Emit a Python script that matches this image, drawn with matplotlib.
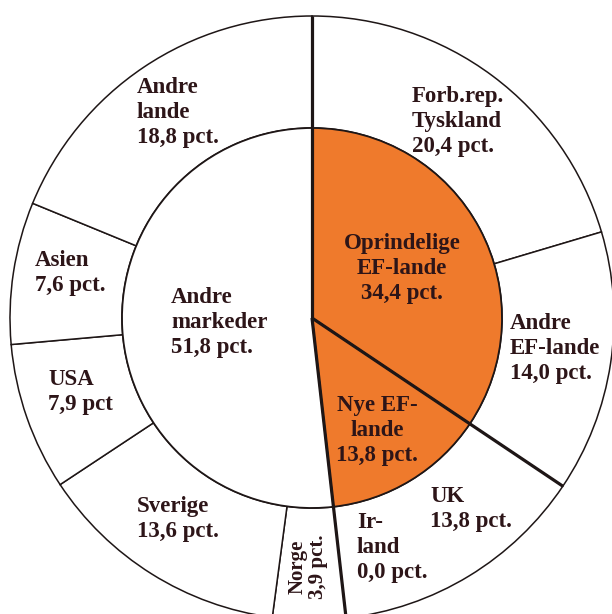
import numpy as np
import matplotlib
matplotlib.use("Agg")
import matplotlib.pyplot as plt

# outer ring: single markets, clockwise from the top
outer_labels = ["Forb.rep.\nTyskland", "Andre\nEF-lande", "UK", "Ir-\nland", "Norge",
                "Sverige", "USA", "Asien", "Andre\nlande"]
outer_values = [20.4, 14.0, 13.8, 0.0, 3.9, 13.6, 7.9, 7.6, 18.8]
outer_pct = ["20,4 pct.", "14,0 pct.", "13,8 pct.", "0,0 pct.", "3,9 pct.",
             "13,6 pct.", "7,9 pct", "7,6 pct.", "18,8 pct."]

# inner disc: groups
inner_labels = ["Oprindelige\nEF-lande", "Nye EF-\nlande", "Andre\nmarkeder"]
inner_values = [34.4, 13.8, 51.8]
inner_pct = ["34,4 pct.", "13,8 pct.", "51,8 pct."]

orange = "#ef7a2c"
ink = "#2d1518"
edge = "#1e1616"

W, H = 612, 614
fig = plt.figure(figsize=(W / 100, H / 100), dpi=100)
ax = fig.add_axes([0, 0, 1, 1])

cx, cy = 312, H - 318
r_out, r_in = 302, 190

ax.pie(outer_values, radius=r_out, center=(cx, cy), startangle=90, counterclock=False,
       colors=["white"] * len(outer_values),
       wedgeprops=dict(width=r_out - r_in, edgecolor=edge, linewidth=1.1))
ax.pie(inner_values, radius=r_in, center=(cx, cy), startangle=90, counterclock=False,
       colors=[orange, orange, "white"],
       wedgeprops=dict(edgecolor=edge, linewidth=1.3))

# heavy dividers: start, end of original EF, end of new EF
cum = np.cumsum([0] + inner_values)
for frac in cum[:3] / 100.0:
    a = np.pi / 2 - 2 * np.pi * frac
    ax.plot([cx, cx + r_out * np.cos(a)], [cy, cy + r_out * np.sin(a)],
            color=edge, lw=2.3, solid_capstyle="butt")

ax.set_xlim(0, W)
ax.set_ylim(0, H)
ax.set_aspect("equal")
ax.axis("off")

font = dict(family=["Liberation Serif", "DejaVu Serif"], fontsize=16.5,
            fontweight="bold", color=ink, linespacing=1.25)

def lab(x, y, s, ha="left"):
    ax.text(x, H - y, s, ha=ha, va="top", multialignment=ha, **font)

# (x, top y) in pixels for each label block
lab(412, 86, outer_labels[0] + "\n" + outer_pct[0])
lab(510, 313, outer_labels[1] + "\n" + outer_pct[1])
lab(430, 486, outer_labels[2] + "\n" + outer_pct[2])
lab(357, 512, outer_labels[3] + "\n" + outer_pct[3])
lab(137, 496, outer_labels[5] + "\n" + outer_pct[5])
lab(48, 369, outer_labels[6] + "\n" + outer_pct[6])
lab(35, 250, outer_labels[7] + "\n" + outer_pct[7])
lab(137, 77, outer_labels[8] + "\n" + outer_pct[8])

lab(402, 233, inner_labels[0] + "\n" + inner_pct[0], ha="center")
lab(377, 395, inner_labels[1] + "\n" + inner_pct[1], ha="center")
lab(171, 287, inner_labels[2] + "\n" + inner_pct[2])

ax.text(308, H - 567, outer_labels[4] + "\n" + outer_pct[4], rotation=90,
        ha="center", va="center", multialignment="center",
        family=["Liberation Serif", "DejaVu Serif"], fontsize=15,
        fontweight="bold", color=ink, linespacing=1.0)

fig.savefig("out.png", dpi=100, facecolor="white")
